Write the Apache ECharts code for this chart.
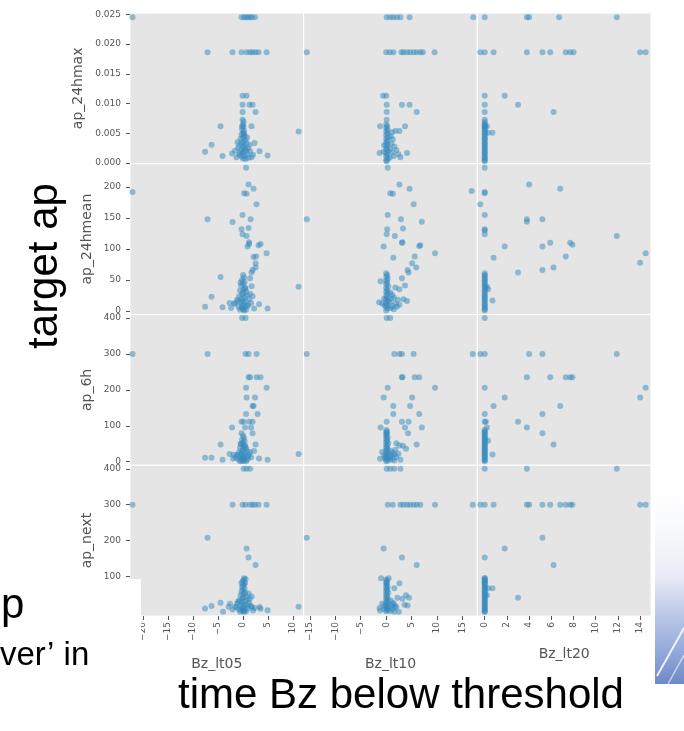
<!DOCTYPE html>
<html>
<head>
<meta charset="utf-8">
<script src="https://cdn.jsdelivr.net/npm/echarts@6/dist/echarts.min.js"></script>
<style>
  html, body { margin: 0; padding: 0; background: #fff; }
  #chart { width: 684px; height: 731px; }
</style>
</head>
<body>
<div id="chart"></div>
<script>
// Scatter matrix: ap targets (rows) against time Bz spent below threshold (columns)
const featureNames = ['Bz_lt05', 'Bz_lt10', 'Bz_lt20'];
const targetNames = ['ap_24hmax', 'ap_24hmean', 'ap_6h', 'ap_next'];

const xTicks = [
  [-20, -15, -10, -5, 0, 5, 10],
  [-15, -10, -5, 0, 5, 10, 15],
  [0, 2, 4, 6, 8, 10, 12, 14]
];
const yTicks = [
  [0, 0.005, 0.010, 0.015, 0.020, 0.025],
  [0, 50, 100, 150, 200],
  [0, 100, 200, 300, 400],
  [0, 100, 200, 300, 400]
];
const xExtent = [[-22.6, 12.1], [-16.2, 17.9], [-0.66, 14.98]];
const yExtent = [[-0.0001, 0.0252], [-5.6, 237.5], [-10, 410], [-10, 410]];

// ---- ap_24hmax ----
const hmaxLt05 = [
  [-22.1,0.0245],[-0.3,0.0245],[0.2,0.0245],[0.6,0.0245],[1.0,0.0245],[1.4,0.0245],[1.8,0.0245],[2.4,0.0245],
  [-7.1,0.0186],[-2.1,0.0186],[-0.3,0.0186],[0.7,0.0186],[1.4,0.0186],[1.9,0.0186],[2.5,0.0186],[3.1,0.0186],[4.7,0.0186],
  [-0.1,0.0113],[0.7,0.0113],[-0.1,0.0098],[1.3,0.0098],[1.9,0.0098],[-0.1,0.0086],[2.5,0.0086],[-0.1,0.0073],[0.1,0.0070],
  [-4.5,0.0062],[1.7,0.0062],[-0.2,0.0062],[11.1,0.0053],[-6.3,0.0031],[-7.6,0.0019],[-4.1,0.0012],[3.3,0.0020],[4.9,0.0013],
  [2.3,0.0034],[1.7,0.0010],
  [0,0.0065],[0.1,0.0061],[-0.2,0.0057],[0.2,0.0054],[0,0.0051],[-0.3,0.0048],[0.3,0.0046],[0,0.0043],[-0.5,0.0041],
  [0.5,0.0039],[0.1,0.0036],[-0.2,0.0034],[0.7,0.0033],[-0.7,0.0031],[0.2,0.0029],[0,0.0027],[-1.0,0.0026],[1.0,0.0025],
  [0.4,0.0024],[-0.4,0.0022],[-1.6,0.0021],[1.4,0.0020],[0.1,0.0019],[-0.1,0.0017],[-2.2,0.0016],[0.8,0.0015],[-0.8,0.0014],
  [2.0,0.0014],[0.3,0.0012],[-0.3,0.0011],[-1.3,0.0010],[1.1,0.0009],[0,0.0008],[0.5,0.0007],[-0.6,0.0018],[0.6,0.0021],
  [-1.1,0.0035],[1.3,0.0031],[0.2,0.0049],[0.8,0.0043]
];
const hmaxLt10 = [
  [0.1,0.0245],[0.8,0.0245],[1.4,0.0245],[2.1,0.0245],[2.8,0.0245],[4.6,0.0245],[17.1,0.0245],
  [-15.6,0.0186],[0,0.0186],[0.7,0.0186],[1.4,0.0186],[3.0,0.0186],[3.4,0.0186],[4.1,0.0186],[4.7,0.0186],[5.4,0.0186],
  [6.0,0.0186],[6.7,0.0186],[7.2,0.0186],[9.5,0.0186],
  [-0.6,0.0113],[0,0.0113],[0.1,0.0098],[3.1,0.0098],[4.6,0.0098],[0.1,0.0086],[6.0,0.0086],[0.1,0.0073],[-1.2,0.0062],
  [3.7,0.0062],[1.8,0.0054],[2.6,0.0054],[-1.3,0.0017],[4.1,0.0017],[2.8,0.0010],
  [0,0.0065],[0.2,0.0062],[0,0.0059],[0.3,0.0056],[0,0.0053],[0.2,0.0050],[0,0.0047],[0.4,0.0044],[0,0.0041],[0.2,0.0038],
  [0,0.0035],[0.3,0.0032],[0,0.0029],[0.2,0.0026],[0,0.0023],[0.4,0.0020],[0,0.0017],[0.2,0.0014],[0,0.0011],[0.3,0.0008],
  [0,0.0005],[0.1,0.0003],[0.9,0.0045],[1.3,0.0040],[1.0,0.0033],[1.6,0.0028],[0.8,0.0024],[2.0,0.0022],[1.2,0.0018],
  [2.4,0.0015],[1.5,0.0012],[0.7,0.0009],[1.1,0.0052],[-0.5,0.0019],[-0.4,0.0030]
];
const hmaxLt20 = [
  [0,0.0245],[3.8,0.0245],[4.0,0.0245],[6.7,0.0245],[11.9,0.0245],
  [-0.4,0.0186],[0,0.0186],[0.8,0.0186],[3.8,0.0186],[5.2,0.0186],[5.9,0.0186],[7.3,0.0186],[7.7,0.0186],[8.0,0.0186],
  [14.0,0.0186],[14.5,0.0186],
  [0,0.0113],[1.8,0.0113],[0,0.0098],[3.0,0.0098],[0,0.0086],[6.2,0.0086],[0,0.0073],[0.2,0.0062],[0,0.0062],
  [0.3,0.0051],[0.7,0.0051],
  [0,0.0069],[0,0.0066],[0,0.0064],[0,0.0061],[0,0.0058],[0,0.0056],[0,0.0053],[0,0.0050],[0,0.0048],[0,0.0045],
  [0,0.0042],[0,0.0040],[0,0.0037],[0,0.0034],[0,0.0032],[0,0.0029],[0,0.0026],[0,0.0024],[0,0.0021],[0,0.0018],
  [0,0.0016],[0,0.0013],[0,0.0010],[0,0.0008],[0,0.0005],[0,0.0003]
];

// ---- ap_24hmean ----
const hmeanLt05 = [
  [-22.1,192],[-7.1,148],[-2.1,143.5],[0.6,231],[1.1,204],[2.1,197],[0.2,190],[0.7,189],[2.7,172],[-0.1,155],[1.5,148],
  [-0.3,132],[1.1,134],[-0.1,124],[0.7,121],[1.2,111],[1.2,108],[0.9,104],[3.1,106],[3.5,108],[4.7,93],[2.1,87],[2.6,88],
  [2.5,77],[2.5,70],[1.9,66],[1.7,62],[-4.5,55],[11.1,39],[-6.3,23],[-7.6,7],[-4.1,6],[3.2,11],[4.9,4],[1.9,24],[1.7,40],
  [-2.7,13],[-1.6,12],[1.4,53],
  [0,58],[0.2,54],[-0.2,50],[0.3,47],[0,44],[-0.4,41],[0.4,38],[0.1,35],[-0.6,33],[0.6,31],[0,29],[-0.2,27],[0.8,25],
  [-0.8,24],[0.3,22],[-0.3,20],[1.2,19],[-1.2,18],[0,17],[0.5,15],[-0.5,14],[1.6,13],[-1.8,12],[0.1,11],[-0.1,9],[0.9,8],
  [-0.9,7],[0.3,6],[-0.3,5],[2.2,4],[-2.4,5],[0,3],[0.6,2],[-0.6,2],[0.2,1],[1.0,10],[-1.0,16],[1.4,28],[0.5,36],[-0.5,46]
];
const hmeanLt10 = [
  [-15.6,148],[0.3,231],[2.6,204],[4.6,197],[0.8,190],[1.3,189],[5.4,172],[0.3,155],[2.9,148],[7.0,144],[3.3,133],[0.2,132],
  [0.1,124],[1.7,121],[3.1,110],[3.2,111],[-0.5,104],[6.5,105],[6.7,106],[9.6,93],[1.4,86],[5.6,88],[5.1,77],[5.9,70],
  [4.2,66],[4.4,62],[3.1,53],[-1.1,48],[3.7,41],[1.8,38],[2.6,35],[-1.4,14],[-0.8,12],[3.4,19],[4.1,16],[2.6,10],[2.1,7],
  [16.8,193.5],
  [0,61],[0.2,58],[0,55],[0.3,52],[0,49],[0.2,46],[0,43],[0.4,40],[0,37],[0.2,34],[0,31],[0.3,28],[0,25],[0.2,22],[0,19],
  [0.4,16],[0,13],[0.2,10],[0,7],[0.3,4],[0,1],[0.8,30],[1.2,26],[1.0,20],[1.5,22],[0.7,14],[1.8,12],[1.2,8],[2.3,18],
  [0.9,5],[1.5,3],[-0.4,20],[-0.3,9]
];
const hmeanLt20 = [
  [0,231],[0,190],[0,192],[4.0,204],[6.8,197],[-0.4,172],[0,155],[3.8,148],[3.8,144],[5.2,148],[0,132],[0,130],[0,124],
  [1.8,104],[5.2,104],[5.9,110],[7.7,110],[7.9,107],[11.9,121],[14.5,93],[14.0,78],[0.8,86],[7.3,88],[6.2,70],[5.2,66],
  [3.0,62],[0.7,17],[0.2,39],[0.3,35],
  [0,61],[0,58],[0,56],[0,53],[0,50],[0,48],[0,45],[0,42],[0,40],[0,37],[0,34],[0,32],[0,29],[0,26],[0,24],[0,21],
  [0,18],[0,16],[0,13],[0,10],[0,8],[0,5],[0,3],[0,1]
];

// ---- ap_6h ----
const h6Lt05 = [
  [-22.1,300],[-7.1,300],[0.5,300],[1.1,300],[2.7,300],[-0.2,400],[0.5,400],[1.1,235],[1.4,235],[2.7,235],[3.5,235],
  [0.6,206],[4.7,206],[0.7,179],[2.4,179],[1.9,155],[2.1,155],[0.6,133],[2.9,133],[-0.3,111],[0.1,111],[1.2,111],[1.9,111],
  [-2.2,95],[0.4,95],[1.6,95],[-0.3,79],[1.9,79],[-4.5,48],[2.5,48],[11.1,21],[-7.6,11],[-6.3,11],[-4.1,5],[3.2,9],[4.9,5],
  [-2.7,21],[-1.9,19],
  [0,72],[0.2,66],[-0.2,61],[0.3,57],[0,53],[-0.4,49],[0.4,45],[0.1,42],[-0.6,39],[0.6,36],[0,33],[-0.2,30],[0.8,28],
  [-0.8,26],[0.3,24],[-0.3,22],[1.2,20],[-1.2,19],[0,17],[0.5,15],[-0.5,13],[1.6,12],[-1.5,11],[0.1,9],[-0.1,8],[0.9,7],
  [-0.9,6],[0.3,4],[-0.3,3],[0,2],[0.6,1],[-0.6,1],[1.0,14],[-1.0,17],[1.4,27],[0.5,40],[-0.5,50],[2.2,30],[-2.0,9]
];
const h6Lt10 = [
  [-15.6,300],[0.1,400],[0.8,400],[1.6,300],[2.6,300],[3.1,300],[5.4,300],[17.0,300],[3.1,235],[3.2,235],[5.6,235],[6.5,235],
  [0.3,206],[9.6,206],[-0.5,179],[5.1,179],[1.4,155],[4.7,155],[1.4,133],[6.5,133],[0.1,111],[3.1,111],[4.4,111],[-1.1,95],
  [3.7,95],[7.0,95],[4.3,79],[0.1,79],[6.0,48],[2.0,51],[2.6,45],[3.3,44],[3.9,36],[1.8,33],[-1.2,8],[-0.8,27],[2.8,5],
  [0,88],[0.2,84],[0,80],[0.1,75],[0,71],[0.3,67],[0,63],[0.2,59],[0,55],[0.4,51],[0,47],[0.2,43],[0,39],[0.3,35],[0,31],
  [0.2,27],[0,23],[0.4,19],[0,15],[0.2,11],[0,7],[0.3,3],[0,1],[0.9,30],[1.3,25],[1.0,18],[1.6,20],[0.7,12],[2.0,14],
  [1.3,8],[2.4,22],[0.8,5],[1.6,3],[-0.4,17],[-0.3,10]
];
const h6Lt20 = [
  [-0.4,300],[0,300],[0,400],[4.0,300],[5.2,300],[11.9,300],[3.8,235],[5.9,235],[7.3,235],[7.7,235],[7.9,235],[14.5,206],
  [0,206],[1.8,179],[14.0,179],[0.8,155],[6.8,155],[0,133],[5.2,133],[0,111],[0.1,111],[3.0,111],[0.2,95],[3.8,95],
  [5.2,79],[6.2,48],[0.3,58],[0.7,20],
  [0,88],[0,84],[0,81],[0,77],[0,73],[0,70],[0,66],[0,62],[0,59],[0,55],[0,51],[0,48],[0,44],[0,40],[0,37],[0,33],
  [0,29],[0,26],[0,22],[0,18],[0,15],[0,11],[0,7],[0,4],[0,1]
];

// ---- ap_next ----
const nextLt05 = [
  [-22.1,300],[-2.1,300],[-0.1,300],[0.5,300],[1.4,300],[1.9,300],[2.4,300],[3.1,300],[4.7,300],[0.1,400],[0.7,400],[1.4,400],
  [-7.1,208],[0.7,178],[1.1,153],[2.5,132],[0.2,95],[0.5,93],[-0.3,81],[0.4,82],[1.7,44],[1.1,53],[-4.5,27],[-7.6,11],
  [-6.3,18],[11.1,16],[-2.6,24],[-1.3,15],[1.7,15],[3.3,15],[4.9,6],[-4.0,2],[-2.9,16],[3.5,10],[2.0,5],
  [0.1,90],[-0.1,86],[0.2,78],[0,74],[-0.2,70],[0.3,66],[0,62],[-0.3,58],[0.4,55],[0.1,51],[-0.5,48],[0.6,45],[0,42],
  [-0.2,39],[0.8,36],[-0.8,34],[0.3,31],[-0.3,29],[1.2,27],[-1.2,25],[0,23],[0.5,21],[-0.5,19],[1.6,18],[-1.6,16],
  [0.1,14],[-0.1,12],[0.9,11],[-0.9,9],[0.3,7],[-0.3,6],[0,4],[0.6,3],[-0.6,2],[0.2,1],[1.0,20],[-1.0,30],[1.3,38],
  [2.3,12],[-2.1,8]
];
const nextLt10 = [
  [0.1,400],[0.8,400],[1.6,400],[2.8,400],[0.3,300],[1.3,300],[2.8,300],[3.4,300],[4.1,300],[4.7,300],[5.4,300],[6.0,300],
  [6.7,300],[9.6,300],[17.0,300],[-15.6,208],[-0.5,178],[3.1,153],[6.0,132],[-1.0,95],[0.5,95],[2.6,81],[1.6,67],[0.1,81],
  [3.9,48],[4.5,41],[2.2,41],[3.2,38],[4.2,19],[-0.8,24],[-1.3,12],[-1.2,5],[1.7,16],[2.5,2],[3.6,21],
  [0,92],[0.2,88],[0,84],[0.1,79],[0,75],[0.3,71],[0,67],[0.2,63],[0,59],[0.4,55],[0,51],[0.2,47],[0,43],[0.3,39],[0,35],
  [0.2,31],[0,27],[0.4,23],[0,19],[0.2,15],[0,11],[0.3,7],[0,3],[0.9,33],[1.3,27],[1.0,20],[1.6,23],[0.7,12],[2.0,15],
  [1.3,9],[0.8,4],[1.6,2],[-0.4,18],[-0.3,9]
];
const nextLt20 = [
  [0,400],[3.8,400],[11.9,400],[-0.4,300],[0,300],[0.8,300],[3.8,300],[4.0,300],[5.2,300],[5.9,300],[6.8,300],[7.3,300],
  [7.7,300],[7.9,300],[14.0,300],[14.5,300],[5.2,208],[1.8,178],[0,153],[6.2,132],[0,95],[0,85],[0.3,67],[0.7,67],
  [0.2,48],[3.0,41],
  [0,95],[0,91],[0,88],[0,84],[0,80],[0,77],[0,73],[0,69],[0,66],[0,62],[0,58],[0,55],[0,51],[0,47],[0,44],[0,40],
  [0,36],[0,33],[0,29],[0,25],[0,22],[0,18],[0,14],[0,11],[0,7],[0,3],[0,1]
];

const panels = [
  [hmaxLt05, hmaxLt10, hmaxLt20],
  [hmeanLt05, hmeanLt10, hmeanLt20],
  [h6Lt05, h6Lt10, h6Lt20],
  [nextLt05, nextLt10, nextLt20]
];

// panel geometry (px)
const colLeft = [130, 303.7, 477.4];
const colW = 173.6;
const rowTop = [13, 163.75, 314.5, 465.25];
const rowH = 150.75;

const labelColor = '#555555';
const tickFont = 'DejaVu Sans';
const minus = v => String(v).replace('-', '\u2212');

const grids = [], xAxes = [], yAxes = [], series = [];
for (let r = 0; r < 4; r++) {
  for (let c = 0; c < 3; c++) {
    const idx = grids.length;
    const bottomRow = r === 3;
    const leftCol = c === 0;
    grids.push({
      left: colLeft[c], top: rowTop[r], width: colW, height: rowH,
      show: true, backgroundColor: '#E5E5E5', borderColor: '#ffffff', borderWidth: 1
    });
    xAxes.push({
      gridIndex: idx, type: 'value', position: 'bottom', min: xExtent[c][0], max: xExtent[c][1],
      axisLine: { show: false, onZero: false }, splitLine: { show: false },
      axisTick: { show: bottomRow, customValues: xTicks[c], length: 4, lineStyle: { color: labelColor } },
      axisLabel: {
        show: bottomRow, customValues: xTicks[c], rotate: 90, margin: 6,
        color: labelColor, fontSize: 9, fontFamily: tickFont, formatter: minus
      },
      name: bottomRow ? featureNames[c] : '',
      nameLocation: 'middle', nameGap: c === 2 ? 31 : 41,
      nameTextStyle: { color: labelColor, fontSize: 14, fontFamily: tickFont }
    });
    yAxes.push({
      gridIndex: idx, type: 'value', position: 'left', min: yExtent[r][0], max: yExtent[r][1],
      axisLine: { show: false, onZero: false }, splitLine: { show: false },
      axisTick: { show: leftCol, customValues: yTicks[r], length: 4, lineStyle: { color: labelColor } },
      axisLabel: {
        show: leftCol, customValues: yTicks[r], margin: 9,
        color: labelColor, fontSize: 9, fontFamily: tickFont,
        formatter: r === 0 ? (v => v.toFixed(3)) : minus
      },
      name: leftCol ? targetNames[r] : '',
      nameLocation: 'middle', nameRotate: 90, nameGap: r === 0 ? 45 : 36,
      nameTextStyle: { color: labelColor, fontSize: 14, fontFamily: tickFont }
    });
    series.push({
      type: 'scatter', xAxisIndex: idx, yAxisIndex: idx,
      data: panels[r][c], symbolSize: 6, silent: true,
      itemStyle: { color: '#348ABD', opacity: 0.5 }
    });
  }
}

const slideFont = '"Liberation Sans", Arial, sans-serif';
const chart = echarts.init(document.getElementById('chart'), null, { renderer: 'canvas' });
chart.setOption({
  animation: false,
  backgroundColor: '#ffffff',
  grid: grids,
  xAxis: xAxes,
  yAxis: yAxes,
  series: series,
  graphic: [
    {
      type: 'text', x: 45, y: 266, rotation: Math.PI / 2, z: 50,
      style: { text: 'target ap', font: '42px ' + slideFont, fill: '#000', align: 'center', verticalAlign: 'middle' }
    },
    {
      type: 'text', x: 401, y: 696, z: 50,
      style: { text: 'time Bz below threshold', font: '42px ' + slideFont, fill: '#000', align: 'center', verticalAlign: 'middle' }
    },
    // slide text box overlapping the lower-left corner
    { type: 'rect', z: 40, shape: { x: 0, y: 579, width: 141, height: 152 }, style: { fill: '#ffffff' } },
    {
      type: 'text', x: 1, y: 606, z: 50,
      style: { text: 'p', font: '42px ' + slideFont, fill: '#000', align: 'left', verticalAlign: 'middle' }
    },
    {
      type: 'text', x: 0, y: 656, z: 50,
      style: { text: 'ver\u2019 in', font: '33px ' + slideFont, fill: '#000', align: 'left', verticalAlign: 'middle' }
    },
    // decorative slide artwork at the right edge
    {
      type: 'rect', z: 40, shape: { x: 655, y: 470, width: 29, height: 214 },
      style: {
        fill: new echarts.graphic.LinearGradient(0, 0, 0, 1, [
          { offset: 0, color: 'rgba(255,255,255,0)' },
          { offset: 0.5, color: '#e8ebf6' },
          { offset: 0.62, color: '#c9d2ec' },
          { offset: 0.85, color: '#93a9db' },
          { offset: 1, color: '#6d89c7' }
        ])
      }
    },
    { type: 'line', z: 41, shape: { x1: 657, y1: 676, x2: 684, y2: 628 }, style: { stroke: 'rgba(255,255,255,0.85)', lineWidth: 2 } },
    { type: 'line', z: 41, shape: { x1: 668, y1: 684, x2: 684, y2: 655 }, style: { stroke: 'rgba(255,255,255,0.6)', lineWidth: 1.5 } }
  ]
});
</script>
</body>
</html>
